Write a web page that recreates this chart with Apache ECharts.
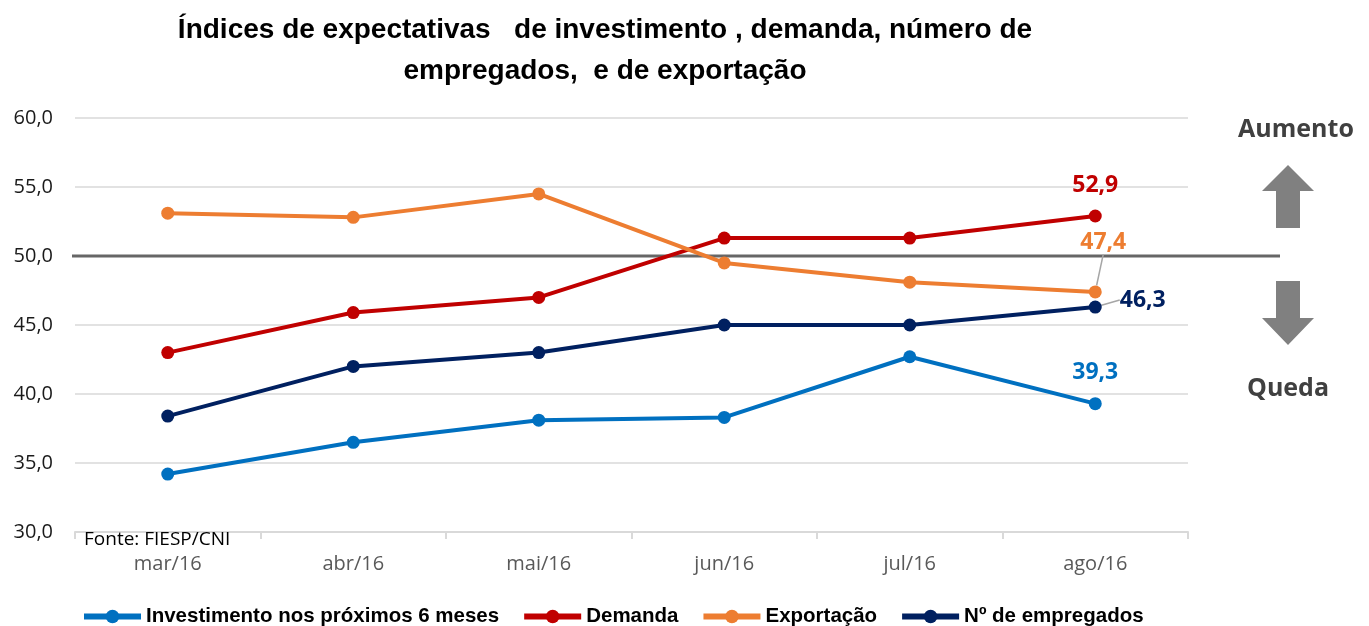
<!DOCTYPE html>
<html>
<head>
<meta charset="utf-8">
<script src="https://cdn.jsdelivr.net/npm/echarts@6/dist/echarts.min.js"></script>
<style>
  html, body { margin: 0; padding: 0; background: #fff; }
  #chart { width: 1369px; height: 626px; }
</style>
</head>
<body>
<div id="chart"></div>
<script>
// DATA
const meses = ["mar/16", "abr/16", "mai/16", "jun/16", "jul/16", "ago/16"];
const investimento = [34.2, 36.5, 38.1, 38.3, 42.7, 39.3];
const demanda = [43.0, 45.9, 47.0, 51.3, 51.3, 52.9];
const exportacao = [53.1, 52.8, 54.5, 49.5, 48.1, 47.4];
const empregados = [38.4, 42.0, 43.0, 45.0, 45.0, 46.3];
const linhaNeutra = 50;

const fonte = "'Liberation Sans', Arial, sans-serif";
const fonteEixo = "'Open Sans', 'Noto Sans', sans-serif";

function virgula(v) { return v.toFixed(1).replace(".", ","); }

// so o ultimo ponto leva rotulo
function ultimoRotulo(vals, cor, lbl) {
  return vals.map((v, i) => {
    if (i < vals.length - 1) return v;
    return { value: v, label: Object.assign({
      show: true, color: cor, fontSize: 23, fontWeight: "bold",
      fontFamily: fonteEixo, position: "top", distance: 13,
      formatter: p => virgula(p.value)
    }, lbl || {}) };
  });
}

function serie(nome, vals, cor, extra) {
  extra = extra || {};
  let s = {
    name: nome,
    type: "line",
    data: ultimoRotulo(vals, cor, extra.label),
    symbol: "circle",
    symbolSize: 13,
    lineStyle: { width: 4, color: cor },
    itemStyle: { color: cor },
    emphasis: { disabled: true },
    z: 3
  };
  if (extra.layout) {
    s.labelLayout = extra.layout;
    s.labelLine = { show: true, lineStyle: { color: "#a6a6a6", width: 1.5 } };
  }
  return s;
}

var chart = echarts.init(document.getElementById("chart"));

chart.setOption({
  animation: false,
  grid: { left: 75, right: 181, top: 118, bottom: 94 },
  legend: {
    left: 76,
    top: 601,
    itemWidth: 57,
    itemHeight: 17,
    itemGap: 22,
    lineStyle: { width: 6 },
    textStyle: { fontSize: 20.5, fontWeight: "bold", color: "#000", fontFamily: fonte },
    data: ["Investimento nos próximos 6 meses", "Demanda", "Exportação", "Nº de empregados"]
  },
  xAxis: {
    type: "category",
    data: meses,
    axisLine: { lineStyle: { color: "#d9d9d9", width: 2 } },
    axisTick: { show: true, length: 7, lineStyle: { color: "#d9d9d9", width: 2 } },
    axisLabel: { color: "#595959", fontSize: 20, fontFamily: fonteEixo, margin: 22 }
  },
  yAxis: {
    type: "value",
    min: 30,
    max: 60,
    interval: 5,
    axisLine: { show: false },
    axisTick: { show: false },
    splitLine: { lineStyle: { color: "#d9d9d9", width: 1.5 } },
    axisLabel: { color: "#1a1a1a", fontSize: 20, fontFamily: fonteEixo, margin: 22,
      formatter: v => virgula(v) }
  },
  series: [
    serie("Investimento nos próximos 6 meses", investimento, "#0070c0"),
    serie("Demanda", demanda, "#c00000"),
    serie("Exportação", exportacao, "#ed7d31", {
      label: { position: "top", distance: 0 },
      layout: { dx: 8, dy: -31 }
    }),
    serie("Nº de empregados", empregados, "#002060", {
      label: { position: "right", distance: 0 },
      layout: { dx: 18, dy: -7 }
    })
  ],
  graphic: [
    { type: "text", id: "titulo", x: 605, y: 10, z: 10,
      style: { text: "Índices de expectativas   de investimento , demanda, número de\nempregados,  e de exportação",
        align: "center", verticalAlign: "top", fill: "#000", font: "bold 28px " + fonte, lineHeight: 41 } },
    { type: "text", id: "fonte", x: 84, y: 530, z: 10,
      style: { text: "Fonte: FIESP/CNI", fill: "#000", font: "19px " + fonteEixo } },
    { type: "text", id: "aumento", x: 1296, y: 130, z: 10,
      style: { text: "Aumento", align: "center", verticalAlign: "middle", fill: "#404040", font: "bold 25px " + fonteEixo } },
    { type: "text", id: "queda", x: 1288, y: 389, z: 10,
      style: { text: "Queda", align: "center", verticalAlign: "middle", fill: "#404040", font: "bold 25px " + fonteEixo } },
    { type: "polygon", id: "setaCima", z: 10,
      shape: { points: [[1288, 165], [1314, 191], [1300, 191], [1300, 228], [1276, 228], [1276, 191], [1262, 191]] },
      style: { fill: "#808080" } },
    { type: "polygon", id: "setaBaixo", z: 10,
      shape: { points: [[1276, 281], [1300, 281], [1300, 318], [1314, 318], [1288, 345], [1262, 318], [1276, 318]] },
      style: { fill: "#808080" } }
  ]
});

// linha de referencia em 50, mais larga que a area do grafico
const y50 = chart.convertToPixel({ yAxisIndex: 0 }, linhaNeutra);
chart.setOption({
  graphic: [
    { type: "line", id: "linha50", z: 2, shape: { x1: 72, y1: y50, x2: 1280, y2: y50 },
      style: { stroke: "#666666", lineWidth: 3 } }
  ]
});
</script>
</body>
</html>
